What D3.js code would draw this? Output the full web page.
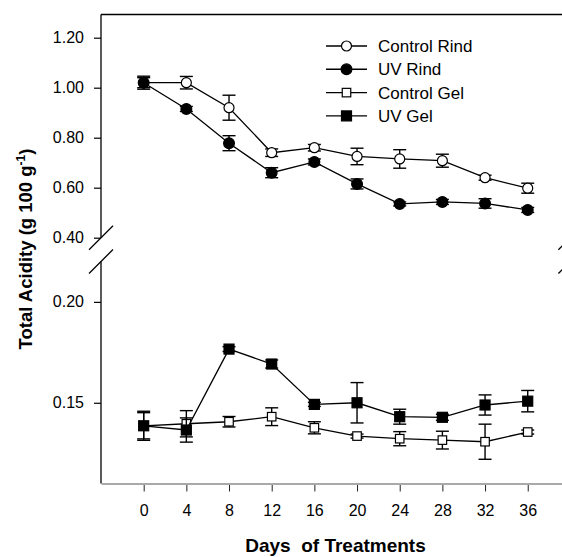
<!DOCTYPE html>
<html>
<head>
<meta charset="utf-8">
<script src="https://cdn.jsdelivr.net/npm/d3@7"></script>
<style>
    body { margin: 0; background: #fff; }
    svg  { display: block; font-family: "Liberation Sans", Arial, sans-serif; }
</style>
</head>
<body>
<script>

//Data
var days = [0, 4, 8, 12, 16, 20, 24, 28, 32, 36];

var controlRind    = [1.020, 1.020, 0.920, 0.740, 0.760, 0.725, 0.715, 0.708, 0.640, 0.598];
var controlRindErr = [0.020, 0.025, 0.050, 0.015, 0.013, 0.033, 0.037, 0.026, 0.010, 0.020];

var uvRind    = [1.020, 0.915, 0.778, 0.660, 0.703, 0.615, 0.535, 0.543, 0.537, 0.511];
var uvRindErr = [0.026, 0.010, 0.030, 0.020, 0.012, 0.020, 0.008, 0.010, 0.019, 0.010];

var controlGel    = [0.1386, 0.1396, 0.1406, 0.1431, 0.1376, 0.1335, 0.1322, 0.1315, 0.1307, 0.1355];
var controlGelErr = [0.0065, 0.0065, 0.0026, 0.0044, 0.0030, 0.0010, 0.0035, 0.0044, 0.0087, 0.0010];

var uvGel    = [0.1386, 0.1365, 0.1766, 0.1692, 0.1492, 0.1500, 0.1431, 0.1428, 0.1489, 0.1508];
var uvGelErr = [0.0072, 0.0060, 0.0012, 0.0020, 0.0010, 0.0100, 0.0037, 0.0015, 0.0050, 0.0053];

var seriesNames = ["Control Rind", "UV Rind", "Control Gel", "UV Gel"];
var topTicks    = [0.40, 0.60, 0.80, 1.00, 1.20];
var bottomTicks = [0.15, 0.20];


//Svg and scales
var svg = d3.select("body").append("svg")
    .attr("width", 562)
    .attr("height", 557);

var axisX   = 101;
var topY    = 14.5;
var baseY   = 483.5;

var x_scale = d3.scaleLinear()
    .domain([-4, 40])
    .range([axisX, 570.4]);

var y_top = d3.scaleLinear()
    .domain([0.4, 1.2])
    .range([237.7, 37.7]);

var y_bottom = d3.scaleLinear()
    .domain([0.11, 0.22])
    .range([baseY, 261.5]);


//Frame: top line, left axis in two pieces, gray bottom axis
svg.append("line")
    .attr("x1", axisX).attr("x2", 571)
    .attr("y1", topY).attr("y2", topY)
    .attr("stroke", "#000").attr("stroke-width", 1.3);

svg.append("line")
    .attr("x1", axisX).attr("x2", axisX)
    .attr("y1", topY).attr("y2", y_top(0.4))
    .attr("stroke", "#000").attr("stroke-width", 1.3);

svg.append("line")
    .attr("x1", axisX).attr("x2", axisX)
    .attr("y1", y_bottom(0.22)).attr("y2", baseY)
    .attr("stroke", "#000").attr("stroke-width", 1.3);

//Break marks (left and right)
[axisX, x_scale(40)].forEach(function(bx) {
    [y_top(0.4), y_bottom(0.22)].forEach(function(by) {
        svg.append("line")
            .attr("x1", bx - 12).attr("y1", by + 12)
            .attr("x2", bx + 12).attr("y2", by - 12)
            .attr("stroke", "#000").attr("stroke-width", 1.3);
    });
});


//Axes
var x_axis = d3.axisBottom(x_scale)
    .tickValues(days)
    .tickSizeInner(8)
    .tickSizeOuter(0)
    .tickPadding(13);

var gx = svg.append("g")
    .attr("transform", "translate(0," + baseY + ")")
    .call(x_axis);
gx.select(".domain").attr("stroke", "#8c8c8c").attr("stroke-width", 1.6);
gx.selectAll(".tick line").attr("stroke", "#222").attr("y1", 1.5);
gx.selectAll(".tick text")
    .attr("font-size", "16px")
    .attr("font-family", "Liberation Sans, Arial, sans-serif")
    .attr("fill", "#000");

var y_axis_top = d3.axisLeft(y_top)
    .tickValues(topTicks)
    .tickFormat(d3.format(".2f"))
    .tickSize(7)
    .tickPadding(10);

var y_axis_bottom = d3.axisLeft(y_bottom)
    .tickValues(bottomTicks)
    .tickFormat(d3.format(".2f"))
    .tickSize(7)
    .tickPadding(10);

[y_axis_top, y_axis_bottom].forEach(function(ax) {
    var gy = svg.append("g")
        .attr("transform", "translate(" + axisX + ",0)")
        .call(ax);
    gy.select(".domain").remove();
    gy.selectAll(".tick line").attr("stroke", "#000").attr("stroke-width", 1.2);
    gy.selectAll(".tick text")
        .attr("font-size", "16px")
        .attr("font-family", "Liberation Sans, Arial, sans-serif")
        .attr("fill", "#000");
});


//Series
var series = [
    {name: seriesNames[0], values: controlRind, err: controlRindErr, shape: "circle", filled: false, y: y_top},
    {name: seriesNames[1], values: uvRind,      err: uvRindErr,      shape: "circle", filled: true,  y: y_top},
    {name: seriesNames[2], values: controlGel,  err: controlGelErr,  shape: "square", filled: false, y: y_bottom},
    {name: seriesNames[3], values: uvGel,       err: uvGelErr,       shape: "square", filled: true,  y: y_bottom}
];

function drawMarker(g, s, cx, cy) {
    if(s.shape == "circle") {
        g.append("circle")
            .attr("cx", cx).attr("cy", cy)
            .attr("r", s.filled ? 5.4 : 5.0)
            .attr("fill", s.filled ? "#000" : "#fff")
            .attr("stroke", "#000")
            .attr("stroke-width", 1.2);
    } else {
        var size = s.filled ? 10 : 8.5;
        g.append("rect")
            .attr("x", cx - size/2).attr("y", cy - size/2)
            .attr("width", size).attr("height", size)
            .attr("fill", s.filled ? "#000" : "#fff")
            .attr("stroke", "#000")
            .attr("stroke-width", 1.2);
    }
}

series.forEach(function(s) {
    var g = svg.append("g");
    var pts = days.map(function(d, i) {return {day: d, v: s.values[i], e: s.err[i]};});

    var line = d3.line()
        .x(function(d) {return x_scale(d.day);})
        .y(function(d) {return s.y(d.v);});

    g.append("path")
        .attr("d", line(pts))
        .attr("fill", "none")
        .attr("stroke", "#000")
        .attr("stroke-width", 1.3);

    //Error bars
    pts.forEach(function(d) {
        var px = x_scale(d.day);
        var y1 = s.y(d.v - d.e), y2 = s.y(d.v + d.e);
        g.append("line")
            .attr("x1", px).attr("x2", px).attr("y1", y1).attr("y2", y2)
            .attr("stroke", "#000").attr("stroke-width", 1.4);
        [y1, y2].forEach(function(yc) {
            g.append("line")
                .attr("x1", px - 6.5).attr("x2", px + 6.5).attr("y1", yc).attr("y2", yc)
                .attr("stroke", "#000").attr("stroke-width", 1.4);
        });
    });

    pts.forEach(function(d) {
        drawMarker(g, s, x_scale(d.day), s.y(d.v));
    });
});


//Legend
var legend = svg.append("g");
series.forEach(function(s, i) {
    var ly = 46 + i*23.3;
    legend.append("line")
        .attr("x1", 326).attr("x2", 367).attr("y1", ly).attr("y2", ly)
        .attr("stroke", "#000").attr("stroke-width", 1.4);
    drawMarker(legend, s, 346.5, ly);
    legend.append("text")
        .attr("x", 378).attr("y", ly)
        .attr("dy", "0.36em")
        .attr("font-size", "17px")
        .text(s.name);
});


//Axis titles
svg.append("text")
    .attr("x", 335.5).attr("y", 552)
    .attr("text-anchor", "middle")
    .attr("font-size", "19px")
    .attr("font-weight", "bold")
    .style("white-space", "pre")
    .text("Days  of Treatments");

var ytitle = svg.append("text")
    .attr("transform", "translate(32,249) rotate(-90)")
    .attr("text-anchor", "middle")
    .attr("font-size", "18.5px")
    .attr("font-weight", "bold");
ytitle.append("tspan").text("Total Acidity (g 100 g");
ytitle.append("tspan").attr("dy", -7).attr("font-size", "12px").text("-1");
ytitle.append("tspan").attr("dy", 7).text(")");

</script>
</body>
</html>
